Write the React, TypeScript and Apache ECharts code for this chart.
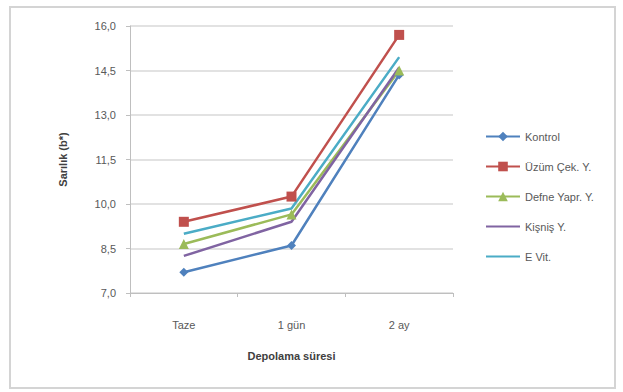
import React, { useEffect, useRef } from "react";
import * as echarts from "echarts";

const categories = ["Taze", "1 gün", "2 ay"];
const kontrol = [7.7, 8.6, 14.35];
const uzum = [9.4, 10.25, 15.7];
const defne = [8.65, 9.65, 14.5];
const kisnis = [8.25, 9.4, 14.6];
const evit = [9.0, 9.85, 14.95];
const yTicks = ["7,0", "8,5", "10,0", "11,5", "13,0", "14,5", "16,0"];

const FONT = "'Liberation Sans', 'DejaVu Sans', sans-serif";

export default function App() {
  const ref = useRef<HTMLDivElement>(null);
  useEffect(() => {
    const chart = echarts.init(ref.current!, null, { renderer: "svg" });
    const mk = (name: string, data: number[], color: string, symbol: string, size: number) => ({
      name,
      type: "line",
      data,
      symbol,
      symbolSize: size,
      showSymbol: symbol !== "none",
      lineStyle: { color, width: 2.5 },
      itemStyle: { color },
      z: 3,
    });
    chart.setOption({
      animation: false,
      backgroundColor: "#fff",
      textStyle: { fontFamily: FONT },
      graphic: [
        {
          type: "rect",
          shape: { x: 10, y: 7, width: 605, height: 381 },
          style: { fill: "none", stroke: "#d4d4d4", lineWidth: 2 },
          z: -10,
        },
      ],
      grid: { left: 130, right: 170, top: 26, bottom: 99 },
      xAxis: {
        type: "category",
        data: categories,
        boundaryGap: true,
        name: "Depolama süresi",
        nameLocation: "middle",
        nameGap: 57,
        nameTextStyle: { fontWeight: "bold", fontSize: 11, color: "#404040", fontFamily: FONT },
        axisLine: { lineStyle: { color: "#bfbfbf", width: 1 } },
        axisTick: { show: true, length: 4, lineStyle: { color: "#bfbfbf" } },
        axisLabel: { color: "#595959", fontSize: 11, margin: 26, fontFamily: FONT },
      },
      yAxis: {
        type: "value",
        min: 7,
        max: 16,
        interval: 1.5,
        name: "Sarılık (b*)",
        nameLocation: "middle",
        nameGap: 62,
        nameRotate: 90,
        nameTextStyle: { fontWeight: "bold", fontSize: 11, color: "#404040", fontFamily: FONT },
        axisLine: { show: true, lineStyle: { color: "#bfbfbf", width: 1 } },
        axisTick: { show: true, length: 4, lineStyle: { color: "#bfbfbf" } },
        splitLine: { lineStyle: { color: "#d9d9d9", width: 1.5 } },
        axisLabel: {
          color: "#595959",
          fontSize: 11,
          margin: 14,
          fontFamily: FONT,
          formatter: (v: number) => {
            const i = Math.round((v - 7) / 1.5);
            return yTicks[i] ?? "";
          },
        },
      },
      legend: {
        orient: "vertical",
        left: 480,
        top: 126,
        itemGap: 19,
        itemWidth: 34,
        itemHeight: 12,
        textStyle: { color: "#595959", fontSize: 11, fontFamily: FONT },
        data: [
          "Kontrol",
          "Üzüm Çek. Y.",
          "Defne Yapr. Y.",
          { name: "Kişniş Y.", itemStyle: { opacity: 0 } },
          { name: "E Vit.", itemStyle: { opacity: 0 } },
        ],
      },
      series: [
        mk("Kontrol", kontrol, "#4F81BD", "diamond", 9),
        mk("Üzüm Çek. Y.", uzum, "#C0504D", "rect", 10),
        mk("Defne Yapr. Y.", defne, "#9BBB59", "triangle", 10),
        mk("Kişniş Y.", kisnis, "#8064A2", "none", 6),
        mk("E Vit.", evit, "#4BACC6", "none", 6),
      ],
    });
    return () => chart.dispose();
  }, []);
  return (
    <div
      ref={ref}
      style={{ position: "fixed", left: 0, top: 0, width: 623, height: 392 }}
    />
  );
}
